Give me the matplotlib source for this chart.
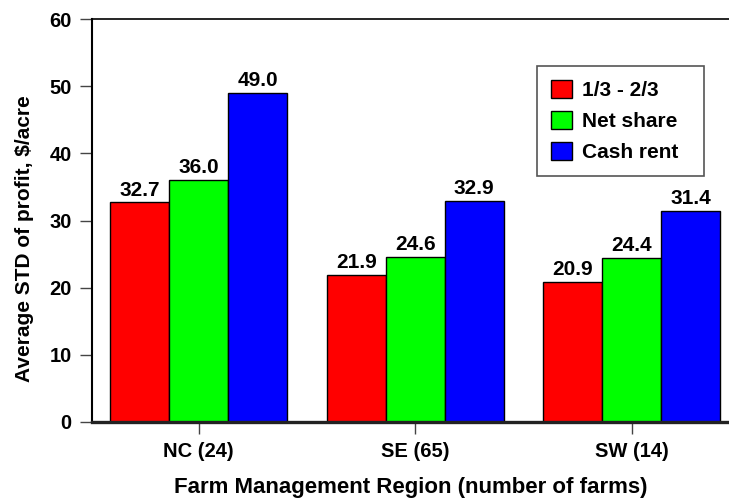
import numpy as np
import matplotlib.pyplot as plt

plt.rcParams['font.family'] = ['Liberation Sans', 'DejaVu Sans']
plt.rcParams['font.weight'] = 'bold'

regions = ['NC (24)', 'SE (65)', 'SW (14)']
series = ['1/3 - 2/3', 'Net share', 'Cash rent']
colors = ['#ff0000', '#00ff00', '#0000ff']
std_1323 = [32.7, 21.9, 20.9]
std_net = [36.0, 24.6, 24.4]
std_cash = [49.0, 32.9, 31.4]
values = [std_1323, std_net, std_cash]

fig = plt.figure(figsize=(7.29, 5.04), dpi=100)
ax = fig.add_axes([0.126, 0.163, 0.874, 0.799])

x = np.arange(len(regions))
w = 0.2725
for i, (name, vals, c) in enumerate(zip(series, values, colors)):
    pos = x + (i - 1) * w
    bars = ax.bar(pos, vals, w, color=c, edgecolor='black', linewidth=1, label=name)
    for b, v in zip(bars, vals):
        ax.annotate(f'{v:.1f}', (b.get_x() + b.get_width() / 2, v),
                    xytext=(0, 2), textcoords='offset points',
                    ha='center', va='bottom', fontsize=15, fontweight='bold')

ax.set_xlim(-0.494, 2.45)
ax.set_ylim(0, 60)
ax.set_yticks(range(0, 61, 10))
ax.set_xticks(x)
ax.set_xticklabels(regions)
ax.tick_params(axis='both', direction='out', length=8.5, width=1, color='#444444',
               labelsize=14.5, pad=6)
ax.spines['right'].set_visible(False)
ax.spines['bottom'].set_linewidth(2.4)
ax.spines['bottom'].set_color('#222222')
ax.spines['left'].set_linewidth(1.5)
ax.spines['top'].set_linewidth(1.2)

ax.set_ylabel('Average STD of profit, $/acre', fontsize=15, fontweight='bold')
ax.yaxis.set_label_coords(-0.091, 0.454)
ax.set_xlabel('Farm Management Region (number of farms)', fontsize=16, fontweight='bold')
ax.xaxis.set_label_coords(0.5, -0.136)

leg = ax.legend(loc='upper left', bbox_to_anchor=(0.699, 0.783, 0.261, 0.1), mode='expand',
                fontsize=15, frameon=True, fancybox=False, edgecolor='#555555', framealpha=1,
                handlelength=1.0, handleheight=1.0, handletextpad=0.5,
                labelspacing=0.5, borderpad=0.65, borderaxespad=0)
leg.get_frame().set_linewidth(1.2)

fig.savefig('out.png', dpi=100)
